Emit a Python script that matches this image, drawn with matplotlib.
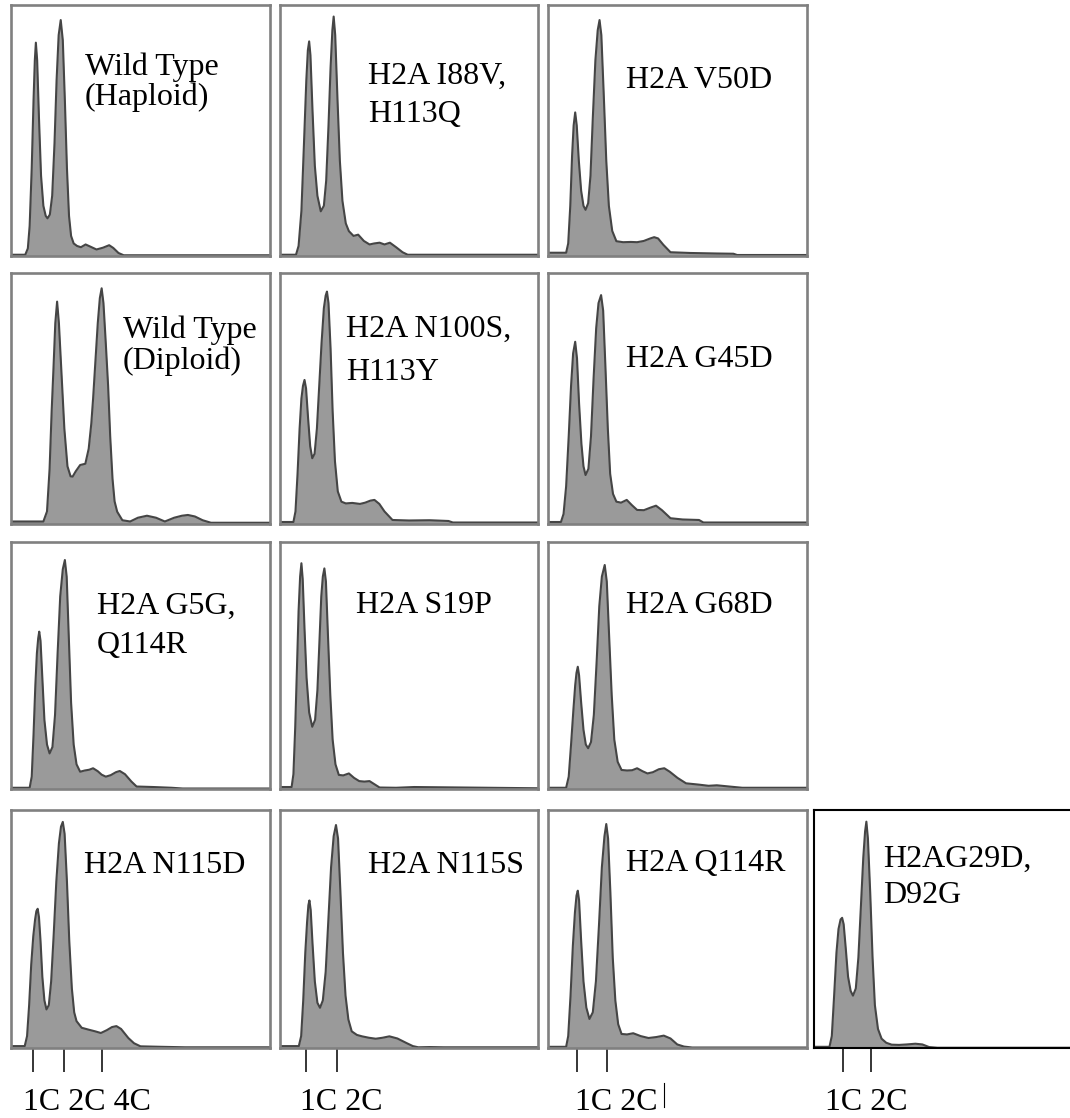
import matplotlib
matplotlib.use("Agg")
import matplotlib.pyplot as plt
from matplotlib.lines import Line2D

plt.rcParams['font.family'] = ['Liberation Serif', 'DejaVu Serif']

# DNA content histograms, x = channel (% of panel), y = counts (% of panel height)
wt_haploid_x = [0, 5.5, 6.5, 7.2, 8.0, 8.7, 9.2, 9.6, 10.1, 10.8, 11.6, 12.5, 13.4, 14.1, 15.0, 15.9, 16.8, 17.6, 18.4, 19.2,
                20.0, 20.8, 21.6, 22.4, 23.2, 24.2, 25.5, 27.0, 28.8, 30.5, 33.0, 35.5, 37.9, 39.5, 41.5, 43.5, 100]
wt_haploid_y = [0.5, 0.5, 3, 12, 35, 62, 78, 85, 78, 55, 32, 20, 16, 15, 16.5, 24, 45, 70, 88, 94,
                86, 62, 35, 16, 8, 5, 4, 3.5, 4.6, 3.8, 2.6, 3.3, 4.3, 3.2, 1.2, 0.3, 0.3]

i88v_x = [0, 6.2, 7.2, 8.3, 9.3, 10.2, 10.8, 11.3, 11.8, 12.6, 13.5, 14.5, 15.8, 17.0, 17.9, 18.8, 19.6, 20.3, 20.8,
          21.4, 22.3, 23.2, 24.2, 25.5, 26.7, 28.5, 30.3, 32.5, 34.7, 36.5, 38.6, 40.5, 42.6, 45.0, 47.5, 49.5, 100]
i88v_y = [0.5, 0.5, 4, 18, 45, 70, 82, 85.5, 80, 58, 36, 24, 17.8, 20, 30, 52, 75, 90, 95.4,
          88, 62, 38, 22, 13, 9.9, 8, 8.5, 6, 4.6, 5, 5.3, 4.6, 5.3, 3.5, 1.5, 0.5, 0.5]

v50d_x = [0, 7.0, 7.8, 8.6, 9.3, 9.9, 10.5, 11.1, 11.9, 12.8, 13.7, 14.5, 15.5, 16.4, 17.3, 18.3, 19.2, 19.9, 20.6,
          21.5, 22.5, 23.5, 24.8, 26.4, 29, 32, 34.4, 37, 39.5, 41, 42.5, 44.5, 47.3, 55, 65, 71.6, 73, 100]
v50d_y = [1.3, 1.3, 5, 20, 40, 52, 57.2, 52, 38, 26, 20, 18.4, 21, 32, 55, 78, 90, 94, 88,
          65, 38, 20, 10, 5.9, 5.5, 5.6, 5.5, 6, 7, 7.5, 7, 4.5, 1.5, 1.2, 1.0, 0.9, 0.4, 0.4]

wt_diploid_x = [0, 12.5, 13.9, 14.9, 15.7, 16.4, 17.1, 17.8, 18.5, 19.4, 20.6, 21.8, 23.0, 23.8, 25.0, 26.7, 28.7, 30.0,
                31.0, 31.7, 32.6, 33.5, 34.3, 35.0, 35.7, 36.6, 37.5, 38.3, 39.2, 40.0, 41.0, 43, 46, 49, 52.5, 56,
                59.4, 63, 66, 68.3, 71, 74, 77.2, 100]
wt_diploid_y = [1.0, 1.0, 5, 22, 45, 62, 80, 88.6, 80, 62, 38, 23, 19, 18.9, 21, 23.5, 24, 30,
                40, 50, 65, 80, 90, 93.9, 88, 72, 55, 35, 18, 9, 4.9, 1.5, 1.0, 2.5, 3.3, 2.5,
                1.0, 2.5, 3.3, 3.6, 3.0, 1.5, 0.5, 0.5]

n100s_x = [0, 5.2, 6.0, 6.8, 7.6, 8.3, 8.9, 9.5, 10.1, 10.9, 11.7, 12.5, 13.4, 14.3, 15.2, 16.1, 17.0, 17.7, 18.2,
           18.8, 19.6, 20.4, 21.3, 22.4, 23.8, 25.5, 28, 31, 33, 35, 36.6, 38.5, 40.5, 43.6, 50, 58, 65.3, 67, 100]
n100s_y = [0.8, 0.8, 5, 20, 38, 50, 55, 57.4, 54, 42, 31, 26.2, 28, 38, 55, 72, 86, 91, 92.6,
           88, 70, 45, 25, 13, 8.9, 8.2, 8.4, 8, 8.5, 9.3, 9.6, 8, 5, 1.6, 1.4, 1.5, 1.2, 0.6, 0.6]

g45d_x = [0, 5.0, 6.0, 7.0, 8.0, 8.9, 9.7, 10.5, 11.2, 12.0, 12.9, 13.7, 14.5, 15.6, 16.6, 17.6, 18.6, 19.5, 20.5,
          21.3, 22.2, 23.1, 24.0, 25.1, 26.4, 28.2, 30.4, 32.4, 34.4, 37, 39.5, 41.7, 44, 47.3, 52, 58.3, 60, 100]
g45d_y = [0.8, 0.8, 4, 15, 35, 55, 68, 72.6, 66, 48, 32, 23, 19.5, 22, 35, 58, 78, 88, 91.2,
          85, 62, 38, 20, 12, 8.9, 8.5, 9.6, 7.5, 5.6, 5.5, 6.5, 7.3, 5.5, 2.3, 1.8, 1.6, 0.6, 0.6]

g5g_x = [0, 7.2, 8.0, 8.7, 9.4, 10.0, 10.5, 10.9, 11.4, 12.1, 12.9, 13.9, 14.9, 16.0, 17.0, 18.0, 19.0, 20.0, 20.8,
         21.5, 22.3, 23.2, 24.2, 25.3, 26.7, 28.5, 30.2, 31.7, 33.5, 35, 36.6, 38.5, 40.5, 42, 44, 46.5, 48.5, 55,
         62, 66.3, 100]
g5g_y = [0.5, 0.5, 5, 22, 42, 55, 61, 63.7, 60, 45, 28, 18, 14.4, 17, 30, 55, 78, 89, 92.7,
         86, 62, 35, 18, 10, 7, 7.5, 7.8, 8.4, 7.2, 5.8, 5, 5.6, 6.8, 7.3, 6, 3, 1, 0.8,
         0.5, 0.2, 0.2]

s19p_x = [0, 4.5, 5.2, 5.9, 6.6, 7.2, 7.8, 8.3, 8.8, 9.5, 10.3, 11.3, 12.5, 13.6, 14.5, 15.3, 16.0, 16.6, 17.2,
          17.8, 18.6, 19.5, 20.4, 21.5, 22.8, 24.5, 26.7, 28.7, 30.7, 32.7, 34.7, 36.5, 38.6, 45, 52, 100]
s19p_y = [0.8, 0.8, 6, 25, 50, 72, 86, 91.4, 85, 65, 45, 31, 25.2, 28, 40, 60, 78, 86, 89.3,
          84, 62, 38, 20, 10, 5.7, 5.5, 6.3, 4.5, 3.2, 3.0, 3.2, 2.0, 0.6, 0.5, 0.8, 0.3]

g68d_x = [0, 7.0, 8.0, 8.9, 9.8, 10.5, 11.0, 11.5, 12.0, 12.8, 13.7, 14.6, 15.5, 16.6, 17.7, 18.8, 19.8, 20.8, 21.9,
          22.7, 23.6, 24.6, 25.6, 26.9, 28.4, 30.5, 32.5, 34.4, 36.5, 38.4, 40.5, 42.8, 44.9, 47, 50, 53.3, 58, 62,
          65.2, 70, 75, 100]
g68d_y = [0.5, 0.5, 5, 18, 32, 42, 47, 49.5, 46, 35, 24, 18, 16.5, 19, 30, 52, 74, 86, 90.7,
          84, 62, 38, 20, 11, 7.7, 7.5, 7.6, 8.4, 7.2, 6.3, 6.8, 8, 8.4, 7, 4.5, 2.3, 1.8, 1.3,
          1.5, 1.0, 0.5, 0.5]

n115d_x = [0, 5.3, 6.2, 7.0, 7.8, 8.6, 9.3, 9.8, 10.3, 10.8, 11.4, 12.1, 12.9, 13.7, 14.6, 15.5, 16.5, 17.5, 18.5,
           19.3, 20.0, 20.7, 21.6, 22.5, 23.5, 24.4, 25.3, 27.3, 30, 32.5, 34.7, 37, 39, 40.7, 42.5, 45.3, 47.5, 50,
           58, 67.3, 100]
n115d_y = [0.8, 0.8, 5, 18, 35, 47, 54, 57.5, 58.5, 55, 45, 30, 20, 16.2, 18, 28, 48, 70, 86,
           93, 95, 90, 70, 45, 25, 15, 11.3, 8.5, 7.7, 7.0, 6.3, 7.5, 8.8, 9.2, 8, 4.2, 2.0, 0.7,
           0.5, 0.3, 0.3]

n115s_x = [0, 7.3, 8.2, 9.0, 9.8, 10.5, 11.0, 11.4, 11.9, 12.6, 13.5, 14.5, 15.5, 16.6, 17.7, 18.8, 19.8, 20.8, 21.7,
           22.5, 23.4, 24.4, 25.4, 26.5, 27.8, 29.8, 31.8, 34.5, 37.1, 39.7, 42.4, 45.5, 49, 51.5, 53.6, 58, 63.6, 100]
n115s_y = [0.8, 0.8, 5, 20, 40, 53, 60, 62, 58, 44, 28, 19, 16.9, 20, 32, 55, 76, 89, 93.7,
           88, 66, 40, 22, 12, 7, 5.5, 4.9, 4.3, 3.9, 4.3, 4.9, 4.0, 2.1, 0.8, 0.3, 0.4, 0.3, 0.3]

q114r_x = [0, 7.0, 7.8, 8.7, 9.6, 10.4, 11.0, 11.5, 12.0, 12.8, 13.7, 14.8, 16.0, 17.3, 18.5, 19.7, 20.8, 21.8, 22.5,
           23.2, 24.1, 25.0, 26.0, 27.1, 28.4, 30.5, 32.9, 35.8, 38.8, 41.8, 44.7, 47.3, 49.9, 52.5, 55.7, 100]
q114r_y = [0.5, 0.5, 5, 22, 43, 57, 64, 66.1, 62, 45, 28, 17, 12.2, 15, 28, 52, 76, 89, 94.1,
           88, 65, 38, 20, 10, 5.9, 5.7, 6.2, 5.0, 4.2, 4.6, 5.2, 4.0, 1.5, 0.6, 0.2, 0.2]

g29d_x = [0, 6.0, 6.9, 7.8, 8.7, 9.5, 10.3, 10.9, 11.5, 12.3, 13.2, 14.2, 15.1, 16.2, 17.2, 18.2, 19.1, 19.8, 20.3,
          20.9, 21.8, 22.7, 23.6, 24.8, 26.2, 28.0, 30.1, 33, 36, 39.3, 42, 44.6, 47.8, 100]
g29d_y = [0.5, 0.5, 5, 22, 40, 50, 54, 54.7, 52, 42, 30, 24, 22, 25, 38, 60, 80, 91, 95.1,
          88, 65, 38, 18, 8, 3.9, 2.2, 1.4, 1.3, 1.5, 1.8, 1.5, 0.4, 0.1, 0.1]

labels = [
    ["Wild Type", "(Haploid)"], ["H2A I88V,", "H113Q"], ["H2A V50D"],
    ["Wild Type", "(Diploid)"], ["H2A N100S,", "H113Y"], ["H2A G45D"],
    ["H2A G5G,", "Q114R"], ["H2A S19P"], ["H2A G68D"],
    ["H2A N115D"], ["H2A N115S"], ["H2A Q114R"], ["H2AG29D,", "D92G"],
]
curves = [
    (wt_haploid_x, wt_haploid_y), (i88v_x, i88v_y), (v50d_x, v50d_y),
    (wt_diploid_x, wt_diploid_y), (n100s_x, n100s_y), (g45d_x, g45d_y),
    (g5g_x, g5g_y), (s19p_x, s19p_y), (g68d_x, g68d_y),
    (n115d_x, n115d_y), (n115s_x, n115s_y), (q114r_x, q114r_y), (g29d_x, g29d_y),
]
# ploidy markers under the bottom row
ploidy_ticks = [[8.6, 20.3, 35.2], [10.1, 22.0], [11.1, 22.7], [11.1, 22.1]]
ploidy_labels = ["1C 2C 4C", "1C 2C", "1C 2C", "1C 2C"]

# layout in pixels
W, H = 1070, 1118
cols = [(11, 270), (280, 538), (548, 807), (814, 1072)]
rows = [(5, 256), (273, 524), (542, 789), (810, 1048)]
cells = [(r, c) for r in range(3) for c in range(3)] + [(3, 0), (3, 1), (3, 2), (3, 3)]
# (left px, first baseline px, line gap px)
label_pos = [(85, 75, 30), (368, 84, 38), (626, 88, 0),
             (123, 338, 31), (346, 337, 43), (626, 367, 0),
             (97, 614, 39), (356, 613, 0), (626, 613, 0),
             (84, 873, 0), (368, 873, 0), (626, 871, 0), (883, 867, 36)]
ploidy_label_x = [23, 300, 575, 825]

fig = plt.figure(figsize=(W / 100, H / 100), dpi=100)

for i, ((r, c), (xs, ys)) in enumerate(zip(cells, curves)):
    x0, x1 = cols[c]
    y0, y1 = rows[r]
    ax = fig.add_axes([x0 / W, 1 - y1 / H, (x1 - x0) / W, (y1 - y0) / H])
    ax.fill_between(xs, ys, 0, color="#9a9a9a", lw=0)
    ax.plot(xs, ys, color="#454545", lw=1.5)
    ax.set_xlim(0, 100)
    ax.set_ylim(0, 100)
    ax.set_yticks([])
    edge = "black" if i == 12 else "#808080"
    for s in ax.spines.values():
        s.set_color(edge)
        s.set_linewidth(1.5 if i == 12 else 1.9)
    if r == 3:
        ax.set_xticks(ploidy_ticks[c])
        ax.tick_params(axis="x", direction="out", length=17, width=1.1, color="black", labelbottom=False)
        fig.text(ploidy_label_x[c] / W, 1 - 1110 / H, ploidy_labels[c], fontsize=23,
                 ha="left", va="baseline")
    else:
        ax.set_xticks([])
    lx, lb, gap = label_pos[i]
    for k, line in enumerate(labels[i]):
        fig.text(lx / W, 1 - (lb + k * gap) / H, line, fontsize=23, ha="left", va="baseline")

# stray mark next to the third column's labels
fig.add_artist(Line2D([664 / W, 664 / W], [1 - 1083 / H, 1 - 1107 / H], color="black", lw=0.8))

fig.savefig("out.png", dpi=100)
